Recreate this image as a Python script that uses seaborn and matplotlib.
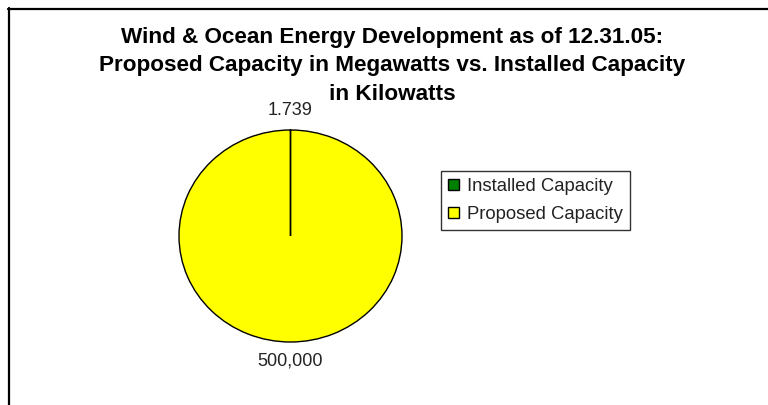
import matplotlib
matplotlib.use("Agg")
import matplotlib.pyplot as plt
import seaborn as sns
from matplotlib.lines import Line2D

# Capacity figures as of 12.31.05
categories = ["Installed Capacity", "Proposed Capacity"]
capacity = [1.739, 500000]
value_labels = ["1.739", "500,000"]
slice_colors = ["#008000", "#FFFF00"]

title_lines = [
    "Wind & Ocean Energy Development as of 12.31.05:",
    "Proposed Capacity in Megawatts vs. Installed Capacity",
    "in Kilowatts",
]

sns.set_theme(style="white")
plt.rcParams["font.family"] = ["Liberation Sans", "DejaVu Sans"]

W, H = 768, 405
fig = plt.figure(figsize=(W / 100, H / 100), dpi=100)
fig.patch.set_facecolor("white")

# Full-canvas axes; one data unit is rx pixels across and ry pixels high,
# so the unit-radius pie comes out slightly wider than tall.
ax = fig.add_axes([0, 0, 1, 1])
cx, cy = 290.5, H - 236
rx, ry = 111.5, 106
wedges, texts = ax.pie(
    capacity,
    labels=value_labels,
    colors=slice_colors,
    startangle=90,
    counterclock=False,
    radius=1,
    labeldistance=1.18,
    wedgeprops=dict(edgecolor="black", linewidth=1),
    textprops=dict(fontsize=13, color="#222222"),
)
for t in texts:
    t.set_horizontalalignment("center")
ax.set_xlim(-cx / rx, (W - cx) / rx)
ax.set_ylim(-cy / ry, (H - cy) / ry)
ax.set_aspect("auto")
ax.axis("off")

# Centred three-line title, one text per line
for i, line in enumerate(title_lines):
    fig.text(392 / W, 1 - (37 + 29 * i) / H, line, ha="center", va="center",
             fontsize=16.2, fontweight="bold", color="black")

leg = ax.legend(
    wedges, categories,
    loc="upper left",
    bbox_to_anchor=(441 / W, 1 - 171 / H),
    bbox_transform=fig.transFigure,
    frameon=True, fancybox=False, edgecolor="black",
    fontsize=13.3, handlelength=0.6, handleheight=0.5,
    handletextpad=0.45, borderpad=0.38, labelspacing=0.6, borderaxespad=0,
)
leg.get_frame().set_linewidth(1)
leg.get_frame().set_facecolor("white")
for txt in leg.get_texts():
    txt.set_color("#222222")

# Frame edges along the top and left
fig.add_artist(Line2D([8 / W, 1], [1 - 8.5 / H, 1 - 8.5 / H],
                      transform=fig.transFigure, color="black", lw=1.6))
fig.add_artist(Line2D([8.5 / W, 8.5 / W], [0, 1 - 8 / H],
                      transform=fig.transFigure, color="black", lw=1.6))

fig.savefig("out.png", dpi=100, facecolor="white")
